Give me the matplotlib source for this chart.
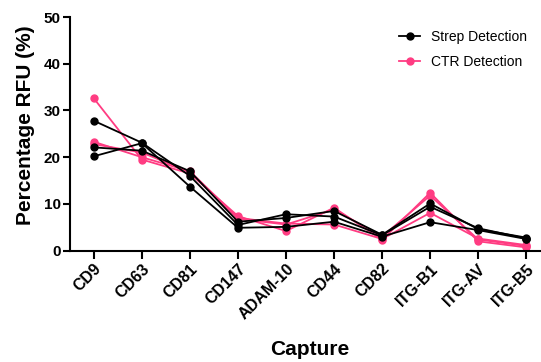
import matplotlib.pyplot as plt

plt.rcParams['font.family'] = ['Liberation Sans', 'DejaVu Sans']

captures = ['CD9', 'CD63', 'CD81', 'CD147', 'ADAM-10', 'CD44', 'CD82',
            'ITG-B1', 'ITG-AV', 'ITG-B5']

# Strep detection replicates (% RFU)
strep_1 = [27.8, 23.1, 16.0, 5.5, 7.8, 7.3, 3.3, 9.4, 4.8, 2.6]
strep_2 = [22.1, 21.4, 17.0, 6.2, 7.0, 8.5, 3.4, 10.1, 4.6, 2.8]
strep_3 = [20.2, 23.0, 13.7, 4.9, 5.1, 6.2, 3.0, 6.1, 4.4, 2.5]

# CTR detection replicates (% RFU)
ctr_1 = [32.6, 19.5, 16.5, 7.4, 4.2, 9.2, 2.3, 12.4, 2.0, 0.7]
ctr_2 = [23.3, 20.0, 17.0, 7.0, 5.8, 5.6, 2.5, 8.1, 2.6, 1.2]
ctr_3 = [22.8, 21.0, 16.8, 6.8, 5.6, 8.8, 3.0, 11.8, 2.4, 1.0]

pink = '#FF3C82'
x = list(range(len(captures)))

fig = plt.figure(figsize=(5.41, 3.62), dpi=100)
ax = fig.add_axes([0.129, 0.3075, 0.869, 0.6455])

for i, ys in enumerate([ctr_1, ctr_2, ctr_3]):
    ax.plot(x, ys, color=pink, marker='o', markersize=5, lw=1.3,
            label='CTR Detection' if i == 0 else None)
for i, ys in enumerate([strep_1, strep_2, strep_3]):
    ax.plot(x, ys, color='black', marker='o', markersize=5, lw=1.3,
            label='Strep Detection' if i == 0 else None)

ax.set_xlim(-0.5, 9.285)
ax.set_ylim(0, 50)
ax.set_yticks([0, 10, 20, 30, 40, 50])
ax.set_xticks(x)
ax.set_xticklabels(captures, rotation=45, ha='right', rotation_mode='anchor')

for side in ['top', 'right']:
    ax.spines[side].set_visible(False)
for side in ['left', 'bottom']:
    ax.spines[side].set_linewidth(1.5)
ax.tick_params(axis='y', width=1.5, length=5, pad=1.5, labelsize=11)
ax.tick_params(axis='x', width=1.5, length=5.5, pad=2, labelsize=11.5)
for lbl in ax.get_xticklabels() + ax.get_yticklabels():
    lbl.set_fontweight('bold')

ax.set_ylabel('Percentage RFU (%)', fontsize=15, fontweight='bold')
ax.set_xlabel('Capture', fontsize=15, fontweight='bold')
ax.yaxis.set_label_coords(-0.0745, 0.538)
ax.xaxis.set_label_coords(0.51, -0.382)

handles, labels = ax.get_legend_handles_labels()
order = [labels.index('Strep Detection'), labels.index('CTR Detection')]
ax.legend([handles[k] for k in order], [labels[k] for k in order],
          loc='upper right', bbox_to_anchor=(1.0, 1.0), frameon=False,
          fontsize=10, labelspacing=0.8, handlelength=1.45,
          handletextpad=0.85)

fig.savefig('out.png', dpi=100)
